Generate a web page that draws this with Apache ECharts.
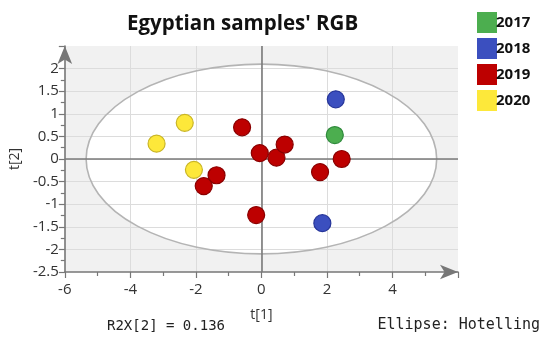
<!DOCTYPE html>
<html>
<head>
<meta charset="utf-8">
<script src="https://cdn.jsdelivr.net/npm/echarts@6/dist/echarts.min.js"></script>
<style>
  html, body { margin: 0; padding: 0; background: #fff; }
  #chart { width: 548px; height: 342px; }
</style>
</head>
<body>
<div id="chart"></div>
<script>
// Score plot t[1] vs t[2], samples grouped by year
const years = ['2017', '2018', '2019', '2020'];
const colors = ['#4cae4f', '#3b4fbf', '#bd0000', '#fde83a'];
const borders = ['#2f8a3c', '#27369a', '#8a0000', '#c9b526'];

const scores2017 = [[2.24, 0.53]];
const scores2018 = [[2.27, 1.32], [1.86, -1.42]];
const scores2019 = [
  [-0.59, 0.70], [-0.05, 0.13], [-1.37, -0.36], [-1.76, -0.60], [-0.16, -1.24],
  [0.46, 0.03], [0.71, 0.32], [1.79, -0.29], [2.45, 0.00]
];
const scores2020 = [[-2.34, 0.80], [-3.20, 0.34], [-2.06, -0.24]];
const groups = [scores2017, scores2018, scores2019, scores2020];

// Hotelling T2 ellipse half-axes (t[1], t[2])
const ellipseRadii = [5.35, 2.1];

const xTicks = [-6, -4, -2, 0, 2, 4];
const yTicks = [-2.5, -2, -1.5, -1, -0.5, 0, 0.5, 1, 1.5, 2];

const labelFont = '"Open Sans", "Noto Sans", sans-serif';
const monoFont = '"DejaVu Sans Mono", "Liberation Mono", monospace';

function ellipsePath(api, fill, stroke) {
  const c = api.coord([0, 0]);
  const ex = api.coord([ellipseRadii[0], 0]);
  const ey = api.coord([0, ellipseRadii[1]]);
  const rx = ex[0] - c[0];
  const ry = c[1] - ey[1];
  const d = 'M ' + (c[0] - rx) + ' ' + c[1] +
    ' A ' + rx + ' ' + ry + ' 0 1 0 ' + (c[0] + rx) + ' ' + c[1] +
    ' A ' + rx + ' ' + ry + ' 0 1 0 ' + (c[0] - rx) + ' ' + c[1] + ' Z';
  return {
    type: 'path',
    shape: { pathData: d },
    style: { fill: fill, stroke: stroke, lineWidth: stroke ? 1.6 : 0 }
  };
}

const chart = echarts.init(document.getElementById('chart'), null, { renderer: 'canvas' });

const scatterSeries = years.map((y, i) => ({
  name: y,
  type: 'scatter',
  data: groups[i],
  symbolSize: 17,
  z: 5,
  itemStyle: { color: colors[i], borderColor: borders[i], borderWidth: 1.2, opacity: 1 }
}));

const axisArrow = {
  show: true, onZero: false,
  symbol: ['none', 'arrow'], symbolSize: [11, 18], symbolOffset: [0, 0],
  lineStyle: { color: '#777', width: 1.6 }
};

chart.setOption({
  animation: false,
  title: {
    text: "Egyptian samples' RGB",
    left: 122,
    top: 9,
    textStyle: { fontFamily: labelFont, fontWeight: 'bold', fontSize: 20.5, color: '#111' }
  },
  legend: {
    data: years,
    orient: 'vertical',
    left: 472,
    top: 7,
    icon: 'rect',
    itemWidth: 20,
    itemHeight: 21,
    itemGap: 5,
    itemStyle: { borderWidth: 0 },
    textStyle: { fontFamily: labelFont, fontWeight: 'bold', fontSize: 15, color: '#111', padding: [0, 0, 0, -6] }
  },
  grid: { left: 64, top: 46, right: 90, bottom: 70 },
  xAxis: {
    type: 'value',
    min: -6, max: 6, interval: 2,
    name: 't[1]',
    nameLocation: 'middle',
    nameGap: 36,
    nameTextStyle: { fontFamily: labelFont, fontSize: 14, color: '#333' },
    axisLine: axisArrow,
    axisTick: { show: true, length: 6, lineStyle: { color: '#777', width: 1.2 } },
    minorTick: { show: true, splitNumber: 2, length: 4, lineStyle: { color: '#777', width: 1.2 } },
    axisLabel: {
      fontFamily: labelFont, fontSize: 15, color: '#333', margin: 10,
      formatter: v => xTicks.indexOf(v) >= 0 ? String(v) : ''
    },
    splitLine: { show: true, showMinLine: false, showMaxLine: false, lineStyle: { color: '#dcdcdc', width: 1 } }
  },
  yAxis: {
    type: 'value',
    min: -2.5, max: 2.5, interval: 0.5,
    name: 't[2]',
    nameLocation: 'middle',
    nameGap: 40,
    nameRotate: 90,
    nameTextStyle: { fontFamily: labelFont, fontSize: 14, color: '#333' },
    axisLine: axisArrow,
    axisTick: { show: true, length: 6, lineStyle: { color: '#777', width: 1.2 } },
    minorTick: { show: true, splitNumber: 2, length: 4, lineStyle: { color: '#777', width: 1.2 } },
    axisLabel: {
      fontFamily: labelFont, fontSize: 15, color: '#333', margin: 6,
      formatter: v => yTicks.indexOf(v) >= 0 ? String(v) : ''
    },
    splitLine: { show: true, showMinLine: false, showMaxLine: false, lineStyle: { color: '#dcdcdc', width: 1 } }
  },
  graphic: [
    {
      type: 'text', left: 107, top: 319,
      style: { text: 'R2X[2] = 0.136', fontFamily: monoFont, fontSize: 14, fill: '#222' }
    },
    {
      type: 'text', right: 8, top: 318,
      style: { text: 'Ellipse: Hotelling', fontFamily: monoFont, fontSize: 15, fill: '#222' }
    }
  ],
  series: [
    {
      // grey plot background with the white ellipse interior
      type: 'custom',
      z: -1,
      silent: true,
      data: [[0, 0]],
      renderItem: (params, api) => {
        const cs = params.coordSys;
        return {
          type: 'group',
          children: [
            { type: 'rect', shape: { x: cs.x, y: cs.y, width: cs.width, height: cs.height }, style: { fill: '#f1f1f1' } },
            ellipsePath(api, '#ffffff', null)
          ]
        };
      }
    },
    {
      // ellipse outline and the zero lines
      type: 'custom',
      z: 3,
      silent: true,
      data: [[0, 0]],
      renderItem: (params, api) => ellipsePath(api, 'none', '#b4b4b4'),
      markLine: {
        silent: true,
        symbol: 'none',
        label: { show: false },
        lineStyle: { color: '#7a7a7a', width: 1.6, type: 'solid' },
        data: [{ xAxis: 0 }, { yAxis: 0 }]
      }
    }
  ].concat(scatterSeries)
});
</script>
</body>
</html>
